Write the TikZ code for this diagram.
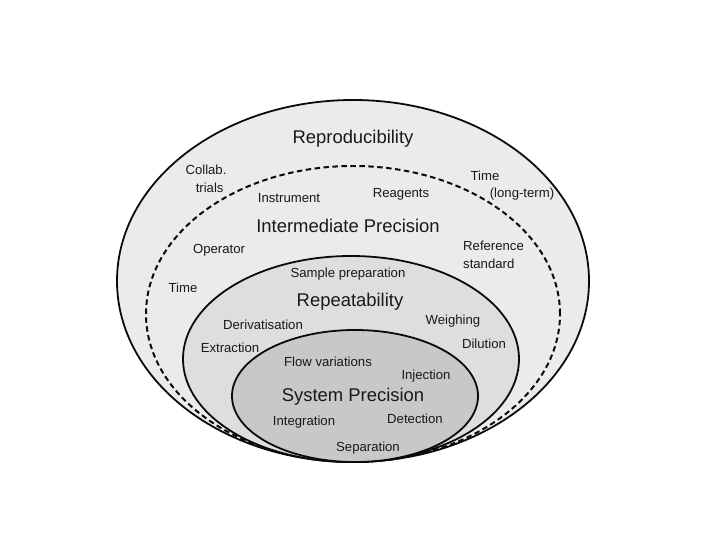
\documentclass[tikz,border=0pt]{standalone}
\usepackage{fontspec}
\setmainfont{Liberation Sans}
\usetikzlibrary{positioning}
\definecolor{reprFill}{HTML}{EBEBEB}
\definecolor{reptFill}{HTML}{DEDEDE}
\definecolor{sysFill}{HTML}{C8C8C8}
\definecolor{ringDraw}{HTML}{0A0A0A}
\tikzset{
  ring/.style  ={draw=ringDraw, line width=1.8pt},
  dring/.style ={draw=ringDraw, line width=2pt, dash pattern=on 5.5pt off 3.5pt},
  title/.style ={font=\fontsize{18.5}{20}\selectfont, text=black!90, inner sep=1pt},
  factor/.style={font=\fontsize{13.2}{17.5}\selectfont, text=black!90, inner sep=1pt},
}
\begin{document}
\begin{tikzpicture}[x=1bp, y=-1bp]
  \useasboundingbox (0,0) rectangle (720,540);

  % nested precision levels
  \fill[white] (0,0) rectangle (720,540);
  \draw[ring, fill=reprFill] (353,281) ellipse [x radius=236bp, y radius=181bp];
  \draw[dring] (353,314) ellipse [x radius=207bp, y radius=148bp];
  \draw[ring, fill=reptFill] (351,359) ellipse [x radius=168bp, y radius=103bp];
  \draw[ring, fill=sysFill] (355,396) ellipse [x radius=123bp, y radius=66bp];

  \node[title] (repro) at (353,139) {Reproducibility};
  \node[factor, align=center] (collab) at (206,179) {Collab.\\\ \ trials};
  \node[factor] (tlong) at (485,176) {Time};
  \node[factor] (tlongb) at (522,194) {(long-term)};

  \node[title] (inter) at (348,226) {Intermediate Precision};
  \node[factor] (instr) at (289,198) {Instrument};
  \node[factor] (reag) at (401,194) {Reagents};
  \node[factor] (oper) at (219,250) {Operator};
  \node[factor, align=left, anchor=west] (refstd) at (462,255) {Reference\\standard};
  \node[factor] (time) at (183,288) {Time};

  \node[title] (repeat) at (350,302) {Repeatability};
  \node[factor] (sample) at (348,274) {Sample preparation};
  \node[factor] (deriv) at (263,325) {Derivatisation};
  \node[factor] (weigh) at (453,321) {Weighing};
  \node[factor] (extr) at (230,348) {Extraction};
  \node[factor] (dil) at (484,344) {Dilution};

  \node[title] (system) at (353,397) {System Precision};
  \node[factor] (flow) at (328,362) {Flow variations};
  \node[factor] (inj) at (426,376) {Injection};
  \node[factor] (integ) at (304,422) {Integration};
  \node[factor] (detec) at (415,419) {Detection};
  \node[factor] (sep) at (368,448) {Separation};
\end{tikzpicture}
\end{document}
